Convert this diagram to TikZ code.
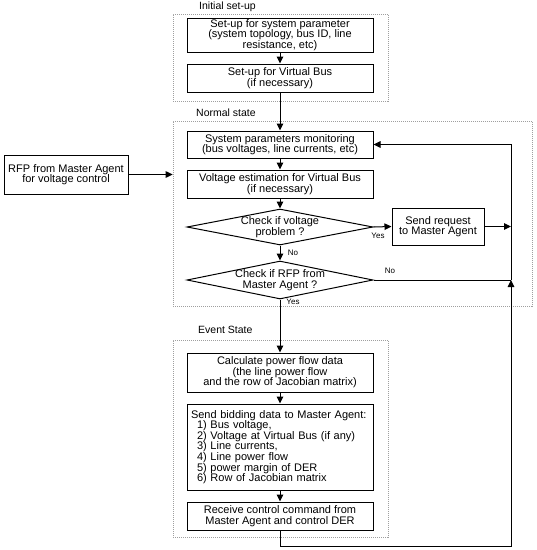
\documentclass[tikz,border=0pt]{standalone}
\usepackage{fontspec}
\setmainfont{Liberation Sans}
\usetikzlibrary{arrows.meta,shapes.geometric}
\begin{document}
\begin{tikzpicture}[x=1pt,y=-1pt,
  txt/.style={font=\fontsize{11}{10.6}\selectfont},
  box/.style={draw=black, line width=1pt, rectangle, minimum width=186pt, align=center, inner sep=1pt, txt},
  dbox/.style={draw=gray!75, line width=0.6pt, dash pattern=on 1pt off 1pt, rectangle, inner sep=0pt},
  dia/.style={draw=black, line width=1pt, diamond, minimum width=186pt, minimum height=36pt, inner sep=0pt},
  lbl/.style={font=\fontsize{10.5}{12}\selectfont, anchor=west, inner sep=0pt},
  small/.style={font=\fontsize{8}{9}\selectfont, inner sep=0pt},
  arr/.style={line width=1pt, -{Triangle[length=7pt,width=6.5pt]}},
  ln/.style={line width=1pt}
]
\useasboundingbox (0,0) rectangle (537,550);
\fill[white] (0,0) rectangle (537,550);

% Initial set-up
\node[dbox, minimum width=215pt, minimum height=87pt] (init) at (280.5,57.5) {};
\node[lbl] (initl) at (199,7) {Initial set-up};
\node[box, minimum height=34pt] (b1) at (280,35) {Set-up for system parameter\\(system topology, bus ID, line\\resistance, etc)};
\node[box, minimum height=28pt] (b2) at (280,78) {Set-up for Virtual Bus\\(if necessary)};

% Normal state
\node[dbox, minimum width=359pt, minimum height=185pt] (norm) at (352.5,213.5) {};
\node[lbl] (norml) at (196,113) {Normal state};
\node[box, minimum height=27pt] (b3) at (280,144.5) {System parameters monitoring\\(bus voltages, line currents, etc)};
\node[box, minimum height=28pt] (b4) at (280,184) {Voltage estimation for Virtual Bus\\(if necessary)};
\node[dia, label={[txt,align=center]center:Check if voltage\\problem ?}] (d1) at (280,227) {};
\node[box, minimum width=92pt, minimum height=37pt] (b5) at (438,226.5) {Send request\\to Master Agent};
\node[dia, minimum height=38pt, label={[txt,align=center]center:Check if RFP from\\Master Agent ?}] (d2) at (280,280) {};

% Event state
\node[dbox, minimum width=215pt, minimum height=197pt] (ev) at (280.5,438.5) {};
\node[lbl] (evl) at (198,330) {Event State};
\node[box, minimum height=39pt] (b6) at (280,372.5) {Calculate power flow data\\(the line power flow\\and the row of Jacobian matrix)};
\node[box, minimum height=86pt, text width=178pt, align=left, inner xsep=4pt] (b7) at (280,447) {Send bidding data to Master Agent:\\
\hspace*{6pt}1) Bus voltage,\\
\hspace*{6pt}2) Voltage at Virtual Bus (if any)\\
\hspace*{6pt}3) Line currents,\\
\hspace*{6pt}4) Line power flow\\
\hspace*{6pt}5) power margin of DER\\
\hspace*{6pt}6) Row of Jacobian matrix};
\node[box, minimum height=28pt] (b8) at (280,516) {Receive control command from\\Master Agent and control DER};

% External
\node[box, minimum width=124pt, minimum height=39pt] (rfp) at (66,174.5) {RFP from Master Agent\\for voltage control};

% labels
\node[small] (yes1) at (378,236) {Yes};
\node[small] (no1) at (293,253) {No};
\node[small] (no2) at (390,271) {No};
\node[small] (yes2) at (293,302) {Yes};

% junctions
\coordinate (jm) at (511,226.5);
\coordinate (jr) at (511,280);
\coordinate (jb) at (511,546);

% connectors
\draw[arr] (b1) -- (b2);
\draw[arr] (b2) -- (b3);
\draw[arr] (b3) -- (b4);
\draw[arr] (b4) -- (d1);
\draw[arr] (d1.east) -- (b5.west);
\draw[arr] (d1.south) -- (d2.north);
\draw[arr] (d2.south) -- (b6.north);
\draw[arr] (b6) -- (b7);
\draw[arr] (b7) -- (b8);
\draw[arr] (b5.east) -- (jm);
\draw[ln] (d2.east) -- (jr);
\draw[arr] (b8.south) |- (jb) -- (jr);
\draw[arr] (jr) |- (b3.east);
\draw[arr] (rfp.east) -- (rfp.east -| norm.west);
\end{tikzpicture}
\end{document}
